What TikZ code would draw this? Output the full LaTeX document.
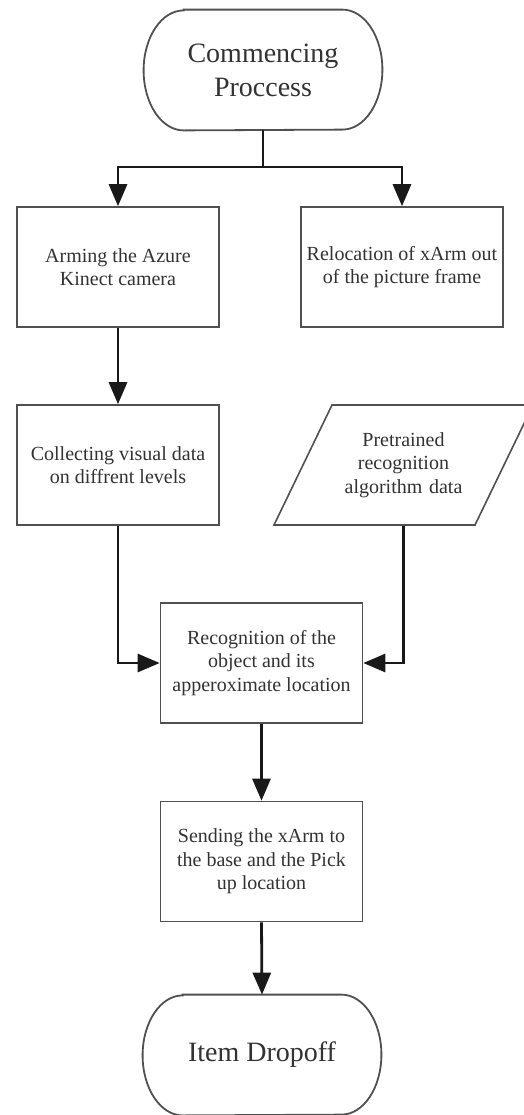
\documentclass[tikz,border=0pt]{standalone}
\usepackage{fontspec}
\setmainfont{Liberation Serif}
\usepackage{tikz}
\usetikzlibrary{arrows.meta}

\definecolor{boxgray}{RGB}{80,80,80}
\definecolor{linegray}{RGB}{25,25,25}
\definecolor{textgray}{RGB}{50,50,50}

\tikzset{
  procbox/.style={draw=boxgray, line width=0.8pt, minimum width=101pt, minimum height=60pt,
    align=center, inner sep=0pt, text=textgray, font=\fontsize{10}{11.8}\selectfont},
  termtext/.style={minimum width=119pt, minimum height=60pt, align=center, inner sep=0pt,
    text=textgray, font=\fontsize{14}{17}\selectfont},
  termline/.style={draw=boxgray, line width=0.9pt},
  conn/.style={draw=linegray, line width=1.4pt},
  arr/.style={conn, -{Triangle[length=11pt,width=9pt]}},
}

% stadium outline round a terminal node
\newcommand{\termoutline}[1]{%
  \draw[termline] ([xshift=20pt]#1.north west) -- ([xshift=-20pt]#1.north east)
    arc[start angle=90, end angle=-90, x radius=20pt, y radius=30pt]
    -- ([xshift=20pt]#1.south west)
    arc[start angle=270, end angle=90, x radius=20pt, y radius=30pt] -- cycle;}

\begin{document}
\begin{tikzpicture}[x=0.5pt,y=-0.5pt]
\useasboundingbox (0,0) rectangle (524,1115);
\clip (0,0) rectangle (524,1115);

%Terminal: start
\node[termtext] (start) at (263,70) {Commencing\\Proccess};
\termoutline{start}
\coordinate (split) at (263,167);

%Process boxes
\node[procbox] (arm) at (118,267) {Arming the Azure\\Kinect camera};
\node[procbox] (reloc) at (402,267) {Relocation of xArm out\\of the picture frame};
\node[procbox] (collect) at (118,465) {Collecting visual data\\on diffrent levels};

%Data: parallelogram
\node[procbox, draw=none, text width=90pt] (pretrained) at (403.5,465)
  {Pretrained\\recognition\\algorithm data};
\draw[termline, line width=0.8pt] (332,405) -- (533,405) -- (475,525) -- (274,525) -- cycle;

\node[procbox] (recog) at (261.5,663) {Recognition of the\\object and its\\apperoximate location};
\node[procbox] (send) at (261.5,861.5) {Sending the xArm to\\the base and the Pick\\up location};

%Terminal: end
\node[termtext] (stop) at (262,1055) {Item Dropoff};
\termoutline{stop}

%Connectors
\draw[conn] (start.south) -- (split);
\draw[arr] (split) -| (arm.north);
\draw[arr] (split) -| (reloc.north);
\draw[arr] (arm.south) -- (collect.north);
\draw[arr] (collect.south) |- (recog.west);
\draw[arr] (pretrained.south) |- (recog.east);
\draw[arr] (recog.south) -- (send.north);
\draw[arr] (send.south) -- (stop.north);

\end{tikzpicture}
\end{document}
